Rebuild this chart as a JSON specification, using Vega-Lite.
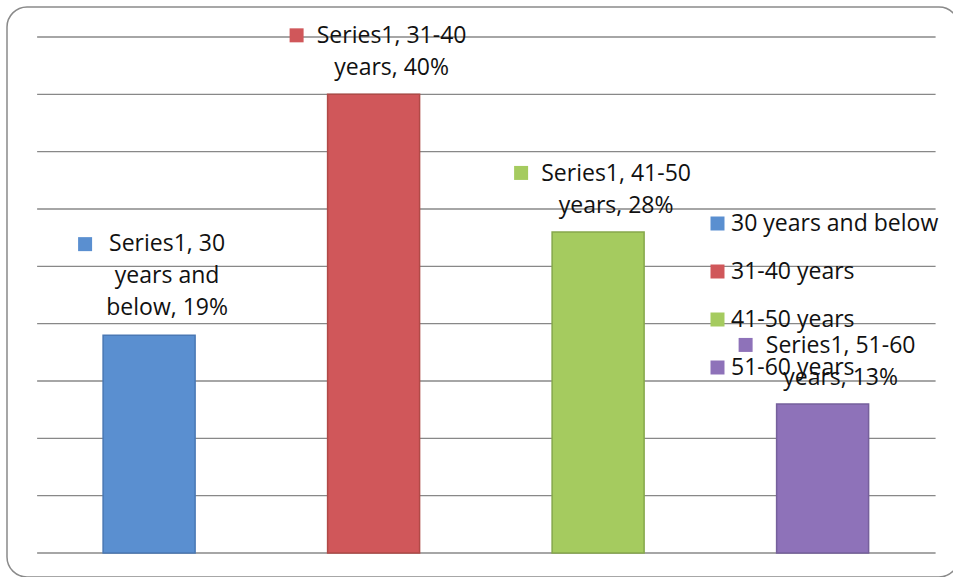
{
  "$schema": "https://vega.github.io/schema/vega-lite/v6.json",
  "autosize": {"type": "none"},
  "padding": {"left": 7, "top": 7, "right": -6, "bottom": 0},
  "width": 952,
  "height": 570,
  "background": "#ffffff",
  "config": {
    "view": {"stroke": "#8a8a8a", "strokeWidth": 1.5, "cornerRadius": 20},
    "font": "Open Sans",
    "text": {"font": "Open Sans"}
  },
  "datasets": {
    "ages": [
      {"cat": "30 years and below", "value": 19, "label": "Series1, 30\nyears and\nbelow, 19%"},
      {"cat": "31-40 years", "value": 40, "label": "Series1, 31-40\nyears, 40%"},
      {"cat": "41-50 years", "value": 28, "label": "Series1, 41-50\nyears, 28%"},
      {"cat": "51-60 years", "value": 13, "label": "Series1, 51-60\nyears, 13%"}
    ],
    "grid": [
      {"tick": 0}, {"tick": 5}, {"tick": 10}, {"tick": 15}, {"tick": 20},
      {"tick": 25}, {"tick": 30}, {"tick": 35}, {"tick": 40}, {"tick": 45}
    ]
  },
  "layer": [
    {
      "data": {"name": "ages"},
      "mark": {"type": "bar"},
      "encoding": {
        "x": {"field": "cat", "type": "nominal", "sort": null, "axis": null,
              "scale": {"domain": ["30 years and below", "31-40 years", "41-50 years", "51-60 years"], "paddingInner": 0.5902, "paddingOuter": 0.4153, "align": 0.5153}},
        "y": {"field": "value", "type": "quantitative", "axis": null, "scale": {"domain": [-2.093, 47.616], "nice": false, "zero": false}},
        "color": {"field": "cat", "type": "nominal",
          "scale": {"domain": ["30 years and below", "31-40 years", "41-50 years", "51-60 years"], "range": ["#5a8fd0", "#d0575a", "#a5cb5f", "#8e72b9"]},
          "legend": {
            "orient": "none", "legendX": 699, "legendY": 205, "title": null,
            "symbolType": "square", "symbolSize": 196, "symbolStrokeWidth": 0,
            "labelFontSize": 23, "labelFont": "Open Sans", "labelColor": "#111111", "labelLimit": 0,
            "labelOffset": 2, "rowPadding": 24, "padding": 0
          }
        }
      }
    },
    {
      "data": {"name": "grid"},
      "mark": {"type": "rule", "color": "#888888", "strokeWidth": 1.3},
      "encoding": {
        "y": {"field": "tick", "type": "quantitative"},
        "x": {"datum": "30 years and below", "bandPosition": -0.717},
        "x2": {"datum": "51-60 years", "bandPosition": 1.728}
      }
    },
    {
      "data": {"name": "ages"},
      "mark": {"type": "bar", "strokeWidth": 1.5},
      "encoding": {
        "x": {"field": "cat", "type": "nominal", "sort": null},
        "y": {"field": "value", "type": "quantitative"},
        "color": {"field": "cat", "type": "nominal"},
        "stroke": {"field": "cat", "type": "nominal", "legend": null,
          "scale": {"domain": ["30 years and below", "31-40 years", "41-50 years", "51-60 years"], "range": ["#4a78b4", "#b04a47", "#86a84c", "#76609c"]}}
      }
    },
    {
      "data": {"name": "ages"},
      "transform": [{"filter": "datum.cat === '30 years and below'"}],
      "mark": {"type": "text", "align": "center", "baseline": "bottom", "lineBreak": "\n", "lineHeight": 32, "fontSize": 23, "dx": 18, "dy": -79, "color": "#111111"},
      "encoding": {
        "x": {"field": "cat", "type": "nominal", "sort": null},
        "y": {"field": "value", "type": "quantitative"},
        "text": {"field": "label"}
      }
    },
    {
      "data": {"name": "ages"},
      "transform": [{"filter": "datum.cat !== '30 years and below'"}],
      "mark": {"type": "text", "align": "center", "baseline": "bottom", "lineBreak": "\n", "lineHeight": 32, "fontSize": 23, "dx": 18, "dy": -46, "color": "#111111"},
      "encoding": {
        "x": {"field": "cat", "type": "nominal", "sort": null},
        "y": {"field": "value", "type": "quantitative"},
        "text": {"field": "label"}
      }
    },
    {
      "data": {"name": "ages"},
      "transform": [{"filter": "datum.cat === '30 years and below'"}],
      "mark": {"type": "point", "shape": "square", "filled": true, "size": 196, "opacity": 1, "xOffset": -64, "yOffset": -91},
      "encoding": {
        "x": {"field": "cat", "type": "nominal", "sort": null},
        "y": {"field": "value", "type": "quantitative"},
        "color": {"field": "cat", "type": "nominal"}
      }
    },
    {
      "data": {"name": "ages"},
      "transform": [{"filter": "datum.cat !== '30 years and below'"}],
      "mark": {"type": "point", "shape": "square", "filled": true, "size": 196, "opacity": 1, "xOffset": -77, "yOffset": -59},
      "encoding": {
        "x": {"field": "cat", "type": "nominal", "sort": null},
        "y": {"field": "value", "type": "quantitative"},
        "color": {"field": "cat", "type": "nominal"}
      }
    }
  ]
}
